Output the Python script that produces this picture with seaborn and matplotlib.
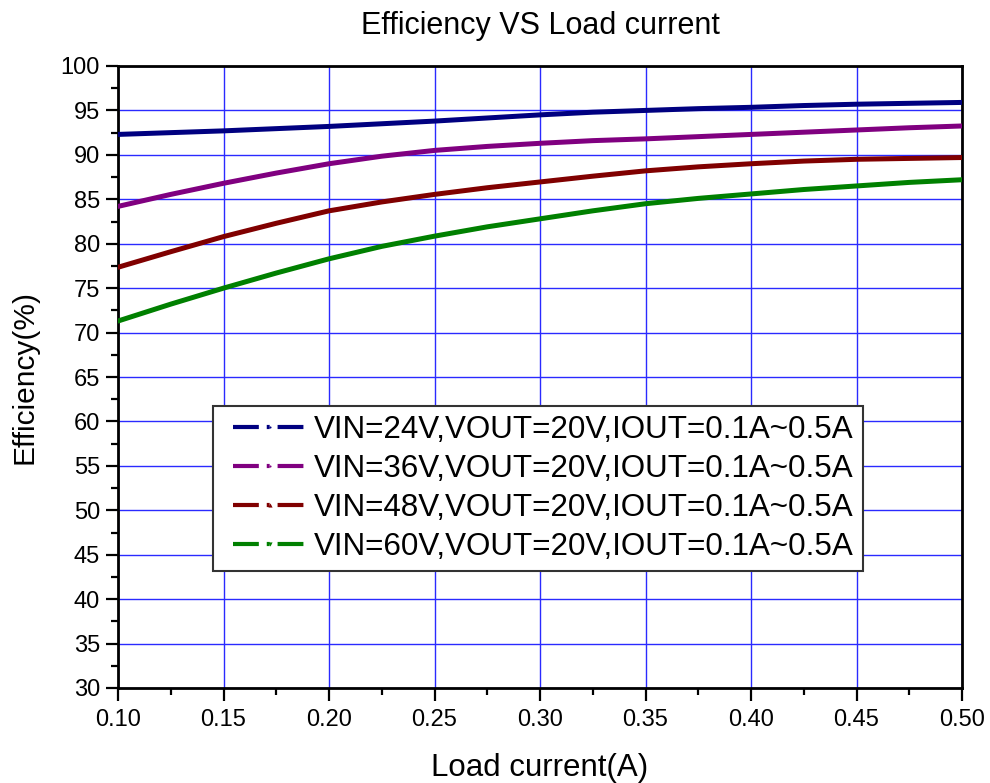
import numpy as np
import pandas as pd
import matplotlib
matplotlib.use("Agg")
import matplotlib.pyplot as plt
import seaborn as sns
from matplotlib.lines import Line2D
from matplotlib.legend_handler import HandlerLine2D
from matplotlib.ticker import MultipleLocator, FormatStrFormatter

# ---- data ----
load_current = [0.100, 0.125, 0.150, 0.175, 0.200, 0.225, 0.250, 0.275, 0.300,
                0.325, 0.350, 0.375, 0.400, 0.425, 0.450, 0.475, 0.500]
eff_24v = [92.3, 92.5, 92.7, 92.95, 93.2, 93.5, 93.8, 94.15, 94.5,
           94.8, 95.0, 95.2, 95.35, 95.55, 95.7, 95.8, 95.9]
eff_36v = [84.2, 85.55, 86.8, 87.95, 89.0, 89.85, 90.5, 90.95, 91.3,
           91.6, 91.8, 92.05, 92.3, 92.55, 92.8, 93.05, 93.25]
eff_48v = [77.35, 79.1, 80.8, 82.3, 83.7, 84.7, 85.55, 86.3, 86.95,
           87.6, 88.2, 88.65, 89.0, 89.3, 89.5, 89.6, 89.7]
eff_60v = [71.3, 73.2, 75.0, 76.7, 78.3, 79.7, 80.85, 81.9, 82.8,
           83.7, 84.5, 85.1, 85.6, 86.1, 86.5, 86.9, 87.2]
series_labels = [
    "VIN=24V,VOUT=20V,IOUT=0.1A~0.5A",
    "VIN=36V,VOUT=20V,IOUT=0.1A~0.5A",
    "VIN=48V,VOUT=20V,IOUT=0.1A~0.5A",
    "VIN=60V,VOUT=20V,IOUT=0.1A~0.5A",
]
x_ticks = [0.10, 0.15, 0.20, 0.25, 0.30, 0.35, 0.40, 0.45, 0.50]
y_ticks = [30, 35, 40, 45, 50, 55, 60, 65, 70, 75, 80, 85, 90, 95, 100]

colors = ["#000080", "#800080", "#800000", "#008000"]
legend_markers = [".", ".", "^", "v"]

rows = []
for lab, vals in zip(series_labels, [eff_24v, eff_36v, eff_48v, eff_60v]):
    for xv, yv in zip(load_current, vals):
        rows.append({"Load current(A)": xv, "Efficiency(%)": yv, "series": lab})
df = pd.DataFrame(rows)

sns.set_theme(style="white")
plt.rcParams["font.family"] = ["Liberation Sans", "DejaVu Sans"]
plt.rcParams["text.color"] = "black"
plt.rcParams["axes.labelcolor"] = "black"
plt.rcParams["xtick.color"] = "black"
plt.rcParams["ytick.color"] = "black"

fig = plt.figure(figsize=(9.9, 7.83), dpi=100)
ax = fig.add_axes([118 / 990, 1 - 688 / 783, 844 / 990, 622 / 783])

sns.lineplot(data=df, x="Load current(A)", y="Efficiency(%)", hue="series",
             hue_order=series_labels, palette=colors, linewidth=3.6,
             legend=False, ax=ax, zorder=3)

ax.set_xlim(x_ticks[0], x_ticks[-1])
ax.set_ylim(y_ticks[0], y_ticks[-1])
ax.set_xticks(x_ticks)
ax.set_yticks(y_ticks)
ax.xaxis.set_major_formatter(FormatStrFormatter("%.2f"))
ax.xaxis.set_minor_locator(MultipleLocator(0.025))
ax.yaxis.set_minor_locator(MultipleLocator(2.5))

ax.grid(True, which="major", color="#2a2aff", linewidth=1.0)
ax.set_axisbelow(True)

for sp in ax.spines.values():
    sp.set_visible(True)
    sp.set_color("black")
    sp.set_linewidth(2.0)

ax.tick_params(which="major", direction="out", length=9, width=1.6,
               bottom=True, left=True, top=False, right=False, colors="black")
ax.tick_params(which="minor", direction="out", length=5, width=1.6,
               bottom=True, left=True, top=False, right=False, colors="black")
ax.tick_params(axis="x", labelsize=17, pad=6)
ax.tick_params(axis="y", labelsize=17, pad=4)

ax.set_xlabel("Load current(A)", fontsize=22.5, labelpad=16)
ax.set_ylabel("Efficiency(%)", fontsize=21.5, labelpad=16)
ax.set_title("Efficiency VS Load current", fontsize=22, pad=23)

handles = [
    Line2D([0], [0], color=c, lw=3.0, linestyle=(0, (6.2, 1.9, 0.7, 1.9)),
           marker=m, markersize=3, markeredgewidth=0)
    for c, m in zip(colors, legend_markers)
]
xpad = 0.35
leg = ax.legend(handles, series_labels, loc="upper left",
                bbox_to_anchor=(95 / 844, 282 / 622), borderaxespad=0,
                fontsize=22.6, handlelength=2.3 + xpad, handletextpad=0.27,
                borderpad=0.3, labelspacing=0.28, fancybox=False,
                framealpha=1, edgecolor="#333333", numpoints=1,
                handler_map={Line2D: HandlerLine2D(xpad=xpad)})
leg.get_frame().set_linewidth(1.5)
leg.set_zorder(5)

fig.savefig("out.png", dpi=100)
